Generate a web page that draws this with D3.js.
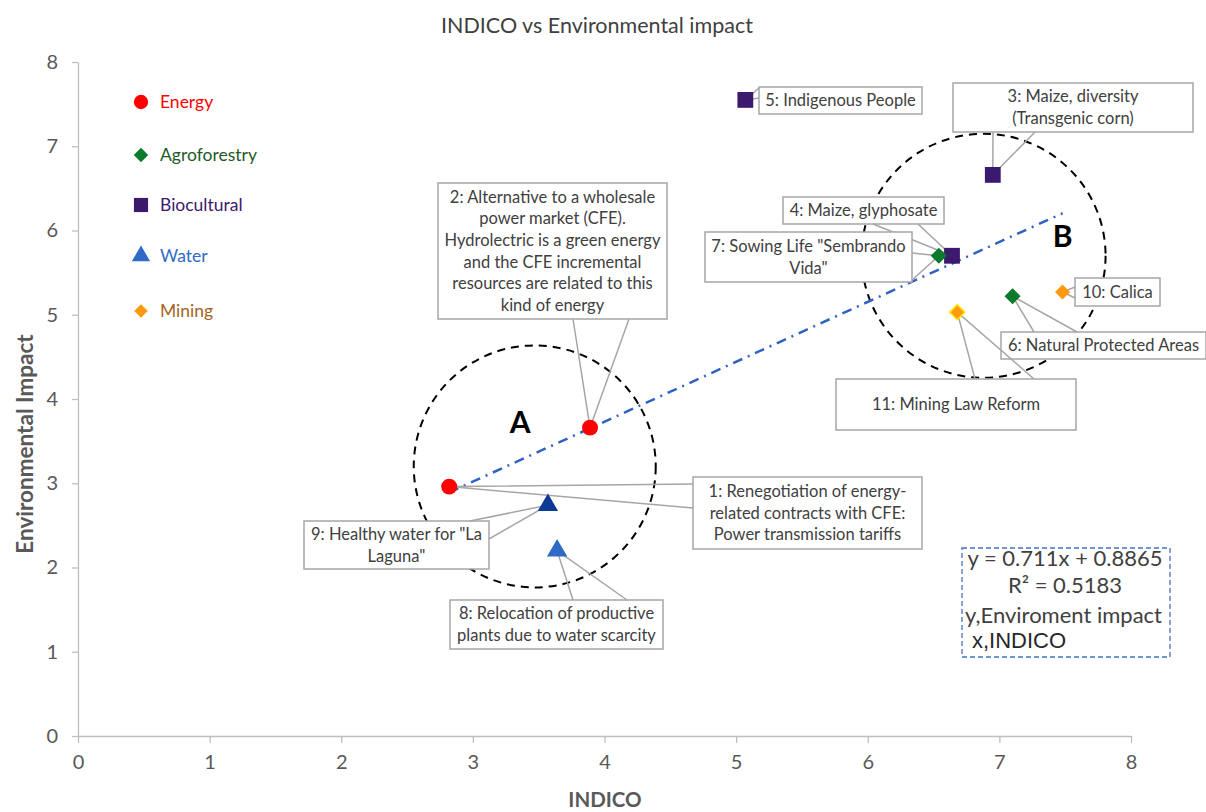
<!DOCTYPE html>
<html><head><meta charset="utf-8">
<script src="https://cdn.jsdelivr.net/npm/d3@7"></script>
<style>body{margin:0;background:#fff;}svg{display:block;font-family:Lato,"Open Sans",sans-serif;}</style>
</head><body><svg id="c" width="1206" height="812"></svg>
<script>
// ---- data ----
const ids = [1,2,3,4,5,6,7,8,9,10,11];
const category = ["Energy","Energy","Biocultural","Biocultural","Biocultural","Agroforestry","Agroforestry","Water","Water","Mining","Mining"];
const indico = [2.82,3.89,6.95,6.64,5.07,7.10,6.54,3.64,3.57,7.48,6.68];
const impact = [2.96,3.66,6.66,5.70,7.55,5.22,5.70,2.20,2.74,5.27,5.03];
const labels = [
  ["1: Renegotiation of energy-","related contracts with CFE:","Power transmission tariffs"],
  ["2: Alternative to a wholesale","power market (CFE).","Hydrolectric is a green energy","and the CFE incremental","resources are related to this","kind of energy"],
  ["3: Maize, diversity","(Transgenic corn)"],
  ["4: Maize, glyphosate"],
  ["5: Indigenous People"],
  ["6: Natural Protected Areas"],
  ["7: Sowing Life \"Sembrando","Vida\""],
  ["8: Relocation of productive","plants due to water scarcity"],
  ["9: Healthy water for \"La","Laguna\""],
  ["10: Calica"],
  ["11: Mining Law Reform"]
];
const legendCats = ["Energy","Agroforestry","Biocultural","Water","Mining"];
const xTicks = [0,1,2,3,4,5,6,7,8];
const yTicks = [0,1,2,3,4,5,6,7,8];
const slope = 0.711, intercept = 0.8865;
const eqLines = ["y = 0.711x + 0.8865","R² = 0.5183","y,Enviroment impact","x,INDICO"];

// ---- styles ----
const markColor = {Energy:"#FF0000",Agroforestry:"#0B7A2A",Biocultural:"#3B1A6E",Water:"#2E6BC6",Mining:"#FF9A0E"};
const textColor = {Energy:"#FF0000",Agroforestry:"#1F5B26",Biocultural:"#3B1A6E",Water:"#2E6BC6",Mining:"#A5631C"};
const shape = {Energy:d3.symbolCircle,Agroforestry:d3.symbolSquare,Biocultural:d3.symbolSquare,Water:d3.symbolTriangle,Mining:d3.symbolSquare};
const rot = {Energy:0,Agroforestry:45,Biocultural:0,Water:0,Mining:45};
const symSize = {Energy:200,Agroforestry:130,Biocultural:250,Water:180,Mining:115};

const svg = d3.select("#c");
const x = d3.scaleLinear().domain([0,8]).range([78,1131]);
const y = d3.scaleLinear().domain([0,8]).range([736,62]);

// title
svg.append("text").attr("x",597).attr("y",25).attr("dy","0.35em").attr("text-anchor","middle")
  .attr("font-size",21.5).attr("fill","#404040").text("INDICO vs Environmental impact");

// axes
const xa = svg.append("g").attr("transform","translate(0,736)")
  .call(d3.axisBottom(x).tickValues(xTicks).tickSize(7).tickSizeOuter(0).tickPadding(12));
const ya = svg.append("g").attr("transform","translate(78,0)")
  .call(d3.axisLeft(y).tickValues(yTicks).tickSize(6).tickSizeOuter(0).tickPadding(14));
[xa,ya].forEach(g=>{
  g.select(".domain").attr("stroke","#BFBFBF").attr("stroke-width",1.3);
  g.selectAll(".tick line").attr("stroke","#BFBFBF").attr("stroke-width",1.3);
  g.selectAll(".tick text").attr("font-size",20).attr("fill","#595959").attr("font-family","Lato, sans-serif");
});

svg.append("text").attr("x",605).attr("y",800).attr("dy","0.35em").attr("text-anchor","middle")
  .attr("font-size",20.5).attr("font-weight","bold").attr("fill","#595959").text("INDICO");
svg.append("text").attr("transform","translate(33,444) rotate(-90)").attr("text-anchor","middle")
  .attr("font-size",22.5).attr("font-weight","bold").attr("fill","#595959").text("Environmental Impact");

// cluster circles
const clusters = [{cx:3.47,cy:3.2,r:121,lab:"A",lx:3.36,ly:3.6},{cx:6.88,cy:5.7,r:122,lab:"B",lx:7.48,ly:5.8}];
clusters.forEach(c=>{
  svg.append("ellipse").attr("cx",x(c.cx)).attr("cy",y(c.cy)).attr("rx",c.r).attr("ry",c.r)
    .attr("fill","none").attr("stroke","#000").attr("stroke-width",2).attr("stroke-dasharray","8,6");
  svg.append("text").attr("x",x(c.lx)).attr("y",y(c.ly)).attr("text-anchor","middle")
    .attr("font-size",30).attr("font-weight","bold").attr("fill","#000").text(c.lab);
});

// trend line
const xmin = d3.min(indico), xmax = d3.max(indico);
svg.append("line").attr("x1",x(xmin)).attr("y1",y(slope*xmin+intercept))
  .attr("x2",x(xmax)).attr("y2",y(slope*xmax+intercept))
  .attr("stroke","#2F62C4").attr("stroke-width",2.5).attr("stroke-dasharray","10,6,2,6");

// callouts: box [left,top,right,bottom] and pointer base points
const callouts = {
  1:{box:[693,477,922,549],base:[[693,484],[693,508]]},
  2:{box:[438,183,667,319],base:[[573,319],[629,319]]},
  3:{box:[953,83,1193,132],base:[[993,132],[1035,132]]},
  4:{box:[783,197,944,224],base:[[873,224],[918,224]]},
  5:{box:[759,87,922,114],base:[[759,88],[759,98]]},
  6:{box:[1001,332,1206,359],base:[[1034,332],[1077,332]]},
  7:{box:[705,232,912,282],base:[[912,253],[912,280]]},
  8:{box:[450,600,663,649],base:[[573,600],[627,600]]},
  9:{box:[304,521,489,569],base:[[470,521],[489,539]]},
  10:{box:[1075,278,1160,306],base:[[1075,287],[1075,298]]},
  11:{box:[836,379,1076,430],base:[[975,379],[1034,379]]}
};
const cg = svg.append("g");
ids.forEach((id,i)=>{
  const c = callouts[id]; const [l,t,r,b] = c.box;
  const px = x(indico[i]), py = y(impact[i]);
  cg.append("rect").attr("x",l).attr("y",t).attr("width",r-l).attr("height",b-t)
    .attr("fill","#fff").attr("stroke","#A6A6A6").attr("stroke-width",1.5);
  cg.append("path").attr("d",`M${c.base[0][0]},${c.base[0][1]}L${px},${py}L${c.base[1][0]},${c.base[1][1]}`)
    .attr("fill","none").attr("stroke","#A6A6A6").attr("stroke-width",1.5);
  const lines = labels[i]; const lh = 21.6;
  const cy0 = (t+b)/2 - (lines.length-1)*lh/2;
  lines.forEach((s,k)=>{
    cg.append("text").attr("x",(l+r)/2).attr("y",cy0+k*lh).attr("dy","0.35em")
      .attr("text-anchor","middle").attr("font-size",16.5).attr("fill","#404040").text(s);
  });
});

// points
svg.append("g").selectAll("path").data(ids).join("path")
  .attr("transform",(d,i)=>`translate(${x(indico[i])},${y(impact[i])}) rotate(${rot[category[i]]})`)
  .attr("d",(d,i)=>d3.symbol().type(shape[category[i]]).size(symSize[category[i]])())
  .attr("fill",(d,i)=> ids[i]===9 ? "#0D3A94" : markColor[category[i]])
  .attr("stroke",(d,i)=> ids[i]===11 ? "#FFE600" : "none")
  .attr("stroke-width",1.5);

// legend
const lg = svg.append("g");
const legY = [102,155,205,256,311];
legendCats.forEach((c,k)=>{
  lg.append("path").attr("transform",`translate(141,${legY[k]}) rotate(${rot[c]})`)
    .attr("d",d3.symbol().type(shape[c]).size(symSize[c]*0.8)()).attr("fill",markColor[c]);
  lg.append("text").attr("x",160).attr("y",legY[k]).attr("dy","0.35em")
    .attr("font-size",17.5).attr("fill",textColor[c]).text(c);
});

// equation box
svg.append("rect").attr("x",962).attr("y",548).attr("width",208).attr("height",109)
  .attr("fill","#fff").attr("stroke","#4472C4").attr("stroke-width",1.3).attr("stroke-dasharray","5,3");
const eqY = [558,585,615,640];
eqLines.forEach((s,k)=>{
  const t = svg.append("text").attr("y",eqY[k]).attr("dy","0.35em").attr("font-size",22).attr("fill","#404040").text(s);
  if(k<2) t.attr("x",1065).attr("text-anchor","middle");
  else t.attr("x",k===2?965:972);
  if(k===3) t.attr("font-family","Liberation Sans, Arial, sans-serif").attr("fill","#262626");
});
</script></body></html>
